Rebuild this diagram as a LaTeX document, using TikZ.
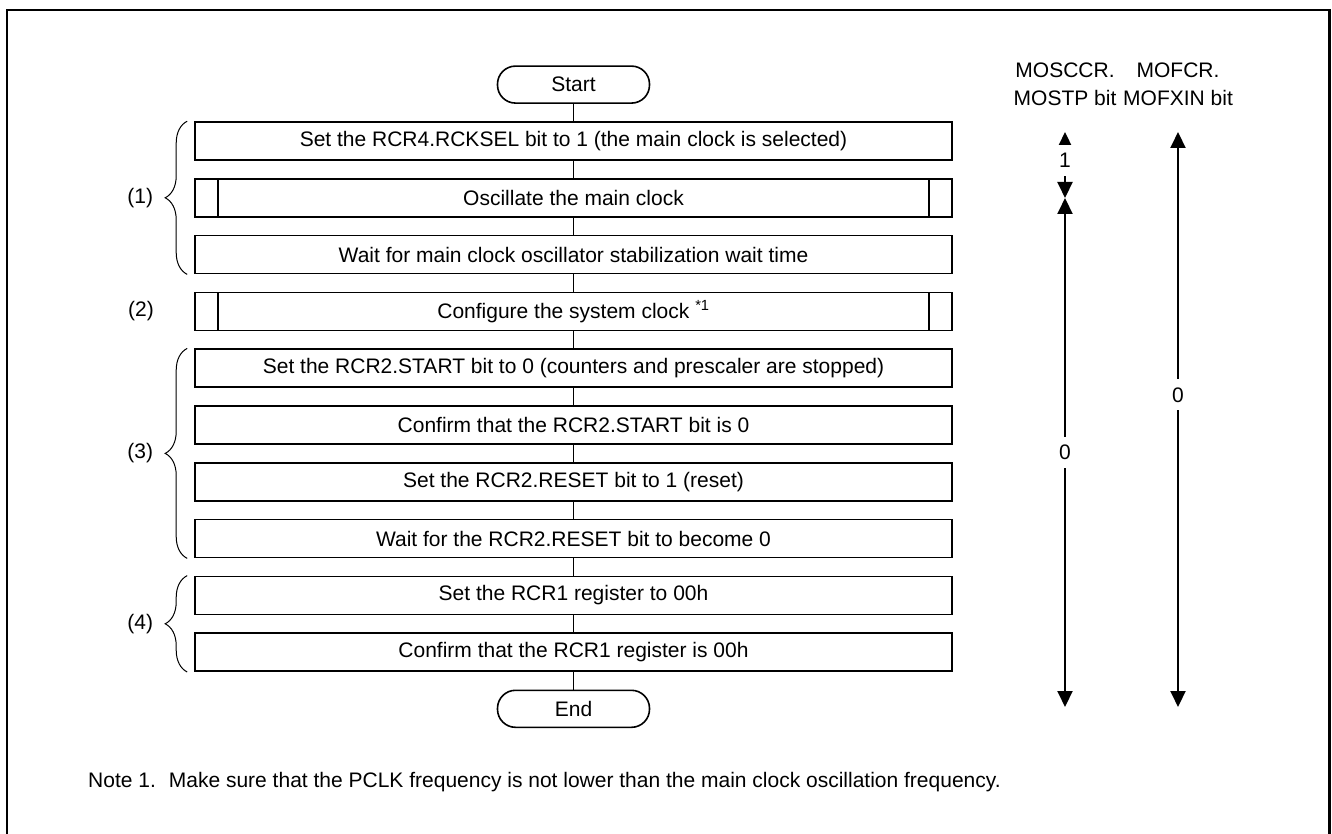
\documentclass[tikz,border=0pt]{standalone}
\usepackage{fontspec}
\setmainfont{Liberation Sans}
\usetikzlibrary{arrows.meta,decorations.pathreplacing}

\begin{document}
\begin{tikzpicture}[x=1pt, y=-1pt,
        font=\fontsize{21}{28}\selectfont,
        term/.style={draw, line width=1.6pt, rounded corners=18pt, minimum width=152pt, minimum height=37pt, inner sep=0pt},
        procbox/.style={draw, line width=1.6pt, minimum width=757pt, minimum height=38pt, inner sep=0pt},
        subbox/.style={procbox, path picture={
            \draw[line width=1.6pt] ([xshift=23pt]path picture bounding box.north west) -- ([xshift=23pt]path picture bounding box.south west);
            \draw[line width=1.6pt] ([xshift=-23pt]path picture bounding box.north east) -- ([xshift=-23pt]path picture bounding box.south east);}},
        flowline/.style={line width=1.2pt},
        bitarrow/.style={line width=2pt, {Triangle[width=15pt,length=16pt]}-{Triangle[width=15pt,length=16pt]}},
        bitval/.style={fill=white, inner xsep=2pt, inner ysep=8pt},
        grpbrace/.style={decorate, decoration={brace, amplitude=22pt}, line width=1pt}]
    \useasboundingbox (0,0) rectangle (1332,834);
    \draw[line width=2.8pt] (7,840) -- (7,10) -- (1329.5,10) -- (1329.5,840);

    % flow
    \node[term] (start) at (573.5,84.6) {Start};
    \node[procbox] (rckselset) at (573.5,141) {Set the RCR4.RCKSEL bit to 1 (the main clock is selected)};
    \node[subbox] (oscmain) at (573.5,197.8) {Oscillate the main clock};
    \node[procbox] (waitosc) at (573.5,254.6) {Wait for main clock oscillator stabilization wait time};
    \node[subbox] (sysclk) at (573.5,311.4) {Configure the system clock \textsuperscript{*1}};
    \node[procbox] (startclr) at (573.5,368.2) {Set the RCR2.START bit to 0 (counters and prescaler are stopped)};
    \node[procbox] (startchk) at (573.5,425) {Confirm that the RCR2.START bit is 0};
    \node[procbox] (resetset) at (573.5,481.8) {Set the RCR2.RESET bit to 1 (reset)};
    \node[procbox] (resetwait) at (573.5,538.6) {Wait for the RCR2.RESET bit to become 0};
    \node[procbox] (rcr1set) at (573.5,595.4) {Set the RCR1 register to 00h};
    \node[procbox] (rcr1chk) at (573.5,652.2) {Confirm that the RCR1 register is 00h};
    \node[term] (stop) at (573.5,708.8) {End};

    \draw[flowline] (start) -- (rckselset);
    \draw[flowline] (rckselset) -- (oscmain);
    \draw[flowline] (oscmain) -- (waitosc);
    \draw[flowline] (waitosc) -- (sysclk);
    \draw[flowline] (sysclk) -- (startclr);
    \draw[flowline] (startclr) -- (startchk);
    \draw[flowline] (startchk) -- (resetset);
    \draw[flowline] (resetset) -- (resetwait);
    \draw[flowline] (resetwait) -- (rcr1set);
    \draw[flowline] (rcr1set) -- (rcr1chk);
    \draw[flowline] (rcr1chk) -- (stop);

    % groups
    \draw[grpbrace] ([xshift=-7pt]waitosc.south west) -- ([xshift=-7pt]rckselset.north west) node[midway, xshift=-47pt] (grp1) {(1)};
    \node (grp2) at (141,311.4) {(2)};
    \draw[grpbrace] ([xshift=-7pt]resetwait.south west) -- ([xshift=-7pt]startclr.north west) node[midway, xshift=-47pt] (grp3) {(3)};
    \draw[grpbrace] ([xshift=-7pt]rcr1chk.south west) -- ([xshift=-7pt]rcr1set.north west) node[midway, xshift=-47pt] (grp4) {(4)};

    % bit states
    \node[align=center] (mostphead) at (1065,84) {MOSCCR.\\MOSTP bit};
    \node[align=center] (mofxinhead) at (1178,84) {MOFCR.\\MOFXIN bit};
    \coordinate (mostptop) at (1065,132);
    \coordinate (mostpmid) at (1065,198);
    \coordinate (mostpbot) at (1065,707);
    \coordinate (mofxintop) at (1178,132);
    \coordinate (mofxinbot) at (1178,707);
    \draw[bitarrow] (mostptop) -- (mostpmid) node[bitval, pos=0.43] (mostpone) {1};
    \draw[bitarrow] (mostpmid) -- (mostpbot) node[bitval, midway] (mostpzero) {0};
    \draw[bitarrow] (mofxintop) -- (mofxinbot) node[bitval, pos=0.457] (mofxinzero) {0};

    \node[anchor=west, inner sep=0pt] (note) at (88,782) {Note 1.\hspace{13pt}Make sure that the PCLK frequency is not lower than the main clock oscillation frequency.};
\end{tikzpicture}
\end{document}
